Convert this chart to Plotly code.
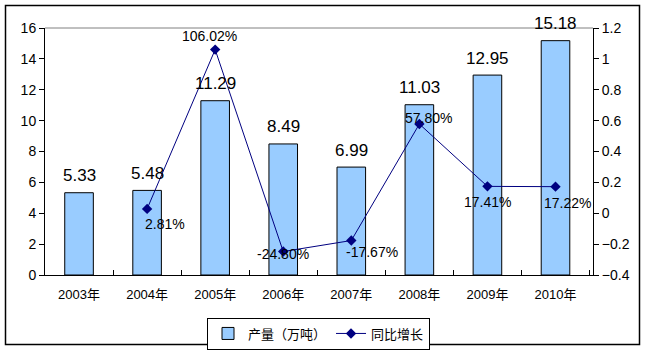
import plotly.graph_objects as go

years = ["2003年", "2004年", "2005年", "2006年", "2007年", "2008年", "2009年", "2010年"]
output = [5.33, 5.48, 11.29, 8.49, 6.99, 11.03, 12.95, 15.18]
growth_years = ["2004年", "2005年", "2006年", "2007年", "2008年", "2009年", "2010年"]
growth = [0.0281, 1.0602, -0.2480, -0.1767, 0.5780, 0.1741, 0.1722]

# pixel offsets for the growth labels
label_dx = [18, -6, 0, 21, 9, 0, 12]
label_dy = [-15, 14, -2, -11, 6, -16, -16]

W, H = 647, 350
L, R, T, B = 45, 54, 28, 75
pw, ph = W - L - R, H - T - B

def px_x(x):
    return (x - L) / pw

def px_y(y):
    return (H - B - y) / ph

font_txt = "Arial, Liberation Sans, sans-serif"
font_cjk = "Liberation Sans, Noto Sans CJK SC, sans-serif"

fig = go.Figure()
fig.add_trace(go.Bar(
    x=years, y=output, name="产量（万吨）",
    marker=dict(color="#99CCFF", line=dict(color="black", width=1)),
    width=0.42,
))
fig.add_trace(go.Scatter(
    x=growth_years, y=growth, name="同比增长", yaxis="y2",
    mode="lines+markers",
    line=dict(color="#000080", width=1),
    marker=dict(symbol="diamond", size=8, color="#000080"),
))

# value labels above the bars
for yr, v in zip(years, output):
    fig.add_annotation(
        x=yr, y=v, text=f"{v:.2f}", showarrow=False, yshift=17,
        font=dict(size=17, color="black", family=font_txt),
    )

# growth labels next to the markers
for yr, g, dx, dy in zip(growth_years, growth, label_dx, label_dy):
    fig.add_annotation(
        x=yr, y=g, yref="y2", text=f"{g*100:.2f}%", showarrow=False,
        xshift=dx, yshift=dy,
        font=dict(size=14, color="black", family=font_txt),
    )

# plot-area top edge
fig.add_shape(type="line", xref="paper", yref="paper", x0=0, x1=1, y0=1, y1=1,
              line=dict(color="#808080", width=1))
# outer frame
fig.add_shape(type="rect", xref="paper", yref="paper",
              x0=px_x(5.5), x1=px_x(639.5), y0=px_y(344.5), y1=px_y(5.5),
              line=dict(color="black", width=1.5))

fig.update_layout(
    width=W, height=H,
    margin=dict(l=L, r=R, t=T, b=B, autoexpand=False),
    paper_bgcolor="white", plot_bgcolor="white",
    showlegend=True,
    legend=dict(orientation="h", xref="container", yref="container",
                x=318.5 / W, xanchor="center", y=1 - 317.5 / H, yanchor="top",
                bordercolor="black", borderwidth=1,
                font=dict(size=13, family=font_cjk, color="black"),
                itemwidth=30, tracegroupgap=0),
    xaxis=dict(showline=True, linecolor="black", linewidth=1,
               ticks="inside", tickson="boundaries", ticklen=5, tickcolor="black",
               ticklabelstandoff=7,
               tickfont=dict(size=13, family=font_cjk, color="black"),
               showgrid=False, automargin=False),
    yaxis=dict(range=[0, 16], dtick=2, showline=True, linecolor="black", linewidth=1,
               ticks="outside", ticklen=5, tickcolor="black",
               tickfont=dict(size=14, family=font_txt, color="black"),
               showgrid=False, zeroline=False, automargin=False),
    yaxis2=dict(range=[-0.4, 1.2], dtick=0.2, overlaying="y", side="right",
                showline=True, linecolor="black", linewidth=1,
                ticks="outside", ticklen=5, tickcolor="black",
                tickfont=dict(size=14, family=font_txt, color="black"),
                tickformat="~g",
                showgrid=False, zeroline=False, automargin=False),
)

fig.write_html("out.html")
